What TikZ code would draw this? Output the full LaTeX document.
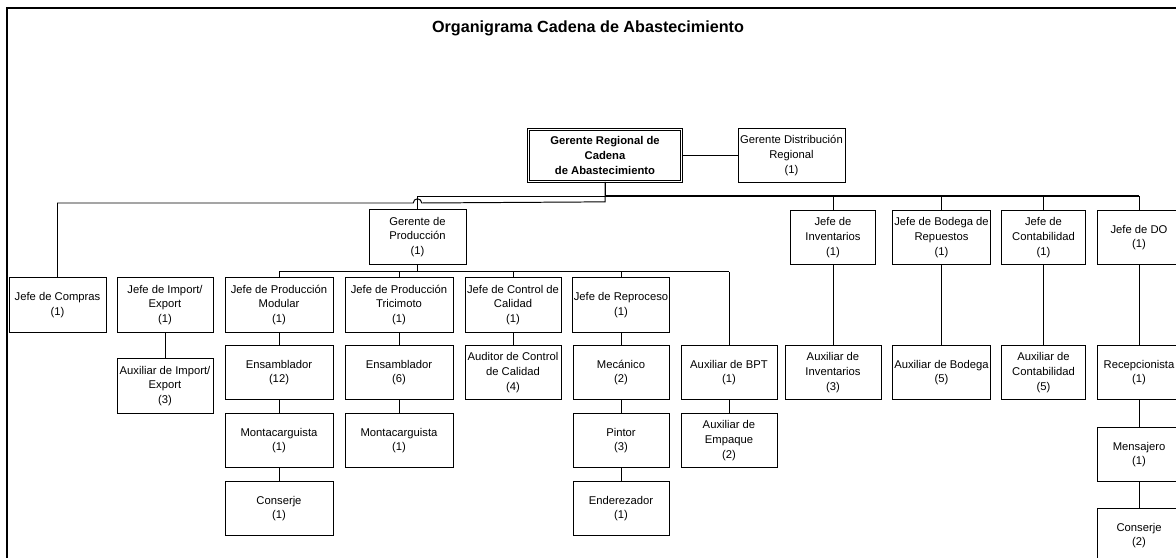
\documentclass[tikz,border=0pt]{standalone}
\usepackage{fontspec}
\setmainfont{Liberation Sans}

\tikzset{
	box/.style={draw, line width=0.7pt, align=center, inner sep=1pt, minimum width=#1*0.025cm, minimum height=1.36cm, font=\fontsize{8}{10.5}\selectfont},
	box/.default=96,
	link/.style={line width=0.7pt},
	mainlink/.style={line width=1.4pt}
}

\begin{document}
\begin{tikzpicture}[x=0.025cm, y=-0.025cm]
			\useasboundingbox (0,0) rectangle (1176,558);
			\draw[line width=1.6pt] (7,600) -- (7,8) -- (1220,8);
			\node (title) at (588,28) {\fontsize{11.5}{14}\selectfont\bfseries Organigrama Cadena de Abastecimiento};
			
			\node[box=153, double, double distance=1.2pt, line width=0.5pt, minimum height=1.3cm, font=\fontsize{8}{10.5}\selectfont\bfseries] (reg) at (605,155.5) {Gerente Regional de\\Cadena\\de Abastecimiento};
			\node[box=107] (dist) at (791.5,155.5) {Gerente Distribución\\Regional\\(1)};
			\node[box=97] (gp) at (417.5,237) {Gerente de\\Producción\\(1)};
			
			\node[box=97] (compras) at (57.5,305) {Jefe de Compras\\(1)};
			\node[box] (import) at (165,305) {Jefe de Import/\\Export\\(1)};
			\node[box=108] (modular) at (279,305) {Jefe de Producción\\Modular\\(1)};
			\node[box=108] (trici) at (399,305) {Jefe de Producción\\Tricimoto\\(1)};
			\node[box] (calidad) at (513,305) {Jefe de Control de\\Calidad\\(1)};
			\node[box] (reproceso) at (621,305) {Jefe de Reproceso\\(1)};
			
			\node[box=85] (inv) at (833,237.5) {Jefe de\\Inventarios\\(1)};
			\node[box=97] (bodega) at (941.5,237.5) {Jefe de Bodega de\\Repuestos\\(1)};
			\node[box=84] (conta) at (1043.5,237.5) {Jefe de\\Contabilidad\\(1)};
			\node[box=84] (jdo) at (1139,237.5) {Jefe de DO\\(1)};
			
			\node[box] (auximport) at (165,386) {Auxiliar de Import/\\Export\\(3)};
			\node[box=108] (ens12) at (279,372.5) {Ensamblador\\(12)};
			\node[box=108] (ens6) at (399,372.5) {Ensamblador\\(6)};
			\node[box] (auditor) at (513,372.5) {Auditor de Control\\de Calidad\\(4)};
			\node[box] (mecanico) at (621,372.5) {Mecánico\\(2)};
			\node[box] (bpt) at (729,372.5) {Auxiliar de BPT\\(1)};
			\node[box] (auxinv) at (833,372.5) {Auxiliar de\\Inventarios\\(3)};
			\node[box=97] (auxbod) at (941.5,372.5) {Auxiliar de Bodega\\(5)};
			\node[box=84] (auxcon) at (1043.5,372.5) {Auxiliar de\\Contabilidad\\(5)};
			\node[box=84] (recep) at (1139,372.5) {Recepcionista\\(1)};
			
			\node[box=108] (monta1) at (279,440.5) {Montacarguista\\(1)};
			\node[box=108] (monta2) at (399,440.5) {Montacarguista\\(1)};
			\node[box] (pintor) at (621,440.5) {Pintor\\(3)};
			\node[box] (empaque) at (729,440.5) {Auxiliar de\\Empaque\\(2)};
			\node[box=84] (mensajero) at (1139,454.5) {Mensajero\\(1)};
			
			\node[box=108] (conserje1) at (279,508.5) {Conserje\\(1)};
			\node[box] (enderezador) at (621,508.5) {Enderezador\\(1)};
			\node[box=84] (conserje2) at (1139,535.5) {Conserje\\(2)};
			
			\coordinate (hub) at (605,196);
			\coordinate (gpbus) at (417.5,271.5);
			
			\draw[link] (reg) -- (dist);
			\draw[link] (reg.south) -- (hub) -| (gp.north);
			\draw[link] (reg.south) -- ++(0,20) -- (421.7,203) arc[start angle=0, end angle=180, radius=3pt] -- (57.5,203) -- (compras.north);
			\draw[mainlink] (hub) -- (hub -| jdo);
			\foreach \n in {inv, bodega, conta, jdo}
				\draw[link] (\n.north) -- (\n.north |- hub);
			
			\draw[link] (gp.south) -- (gpbus);
			\draw[link] (gpbus -| modular) -- (gpbus -| bpt);
			\foreach \n in {modular, trici, calidad, reproceso, bpt}
				\draw[link] (\n.north) -- (\n.north |- gpbus);
			
			\foreach \a/\b in {import/auximport, modular/ens12, ens12/monta1, monta1/conserje1, trici/ens6, ens6/monta2, calidad/auditor, reproceso/mecanico, mecanico/pintor, pintor/enderezador, bpt/empaque, inv/auxinv, bodega/auxbod, conta/auxcon, jdo/recep, recep/mensajero, mensajero/conserje2}
				\draw[link] (\a) -- (\b);
			\end{tikzpicture}
\end{document}
